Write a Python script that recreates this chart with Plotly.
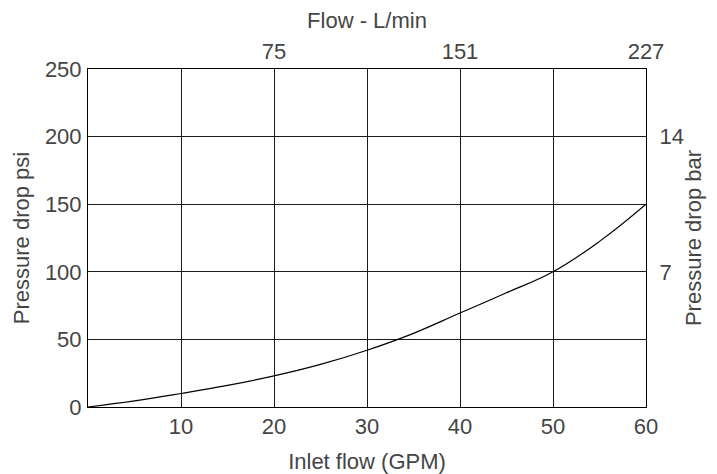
import plotly.graph_objects as go

# Data
flow_gpm = [0, 5, 10, 15, 20, 25, 30, 35, 40, 45, 50, 55, 60]
pressure_psi = [0, 4.5, 10, 16, 23, 31.5, 42, 54.5, 69.5, 84.5, 100, 122.5, 150]

bottom_ticks = [10, 20, 30, 40, 50, 60]
top_tick_vals = [20, 40, 60]
top_tick_text = ["75", "151", "227"]
left_ticks = [0, 50, 100, 150, 200, 250]
right_tick_vals = [100, 200]
right_tick_text = ["7", "14"]

font_family = "Liberation Sans, Arial, Helvetica, sans-serif"
txt_color = "#454545"
grid_color = "#1a1a1a"
fsize = 22
tfont = dict(size=fsize)

fig = go.Figure()
fig.add_trace(go.Scatter(x=flow_gpm, y=pressure_psi, mode="lines",
                         line=dict(color="black", width=1.2, shape="spline",
                                   smoothing=1.2),
                         showlegend=False, hoverinfo="skip"))
# invisible trace for secondary axes
fig.add_trace(go.Scatter(x=[0], y=[0], xaxis="x2", yaxis="y2", mode="markers",
                         marker=dict(opacity=0), showlegend=False, hoverinfo="skip"))

fig.update_layout(
    width=709, height=466,
    margin=dict(l=80, r=71, t=61, b=67),
    paper_bgcolor="white", plot_bgcolor="white",
    font=dict(family=font_family, size=fsize, color=txt_color),
    xaxis=dict(range=[0, 60], tickvals=bottom_ticks, showgrid=True,
               gridcolor=grid_color, gridwidth=1, zeroline=False,
               showline=True, linecolor="black", linewidth=1, mirror=True,
               ticks="outside", ticklen=0, tickcolor="rgba(0,0,0,0)",
               automargin=False, tickfont=tfont,
               title=dict(text="Inlet flow (GPM)", standoff=16, font=tfont)),
    yaxis=dict(range=[0, 250], tickvals=left_ticks, showgrid=True,
               gridcolor=grid_color, gridwidth=1, zeroline=False,
               showline=True, linecolor="black", linewidth=1, mirror=True,
               ticks="outside", ticklen=1, tickcolor="rgba(0,0,0,0)",
               automargin=False, tickfont=tfont,
               title=dict(text="Pressure drop psi", standoff=9, font=tfont)),
    xaxis2=dict(range=[0, 60], overlaying="x", side="top",
                tickvals=top_tick_vals, ticktext=top_tick_text,
                showgrid=False, zeroline=False, showline=False,
                ticks="outside", ticklen=0, tickcolor="rgba(0,0,0,0)",
                automargin=False, tickfont=tfont,
                title=dict(text="Flow - L/min", standoff=12, font=tfont)),
    yaxis2=dict(range=[0, 250], overlaying="y", side="right",
                tickvals=right_tick_vals, ticktext=right_tick_text,
                showgrid=False, zeroline=False, showline=False,
                ticks="outside", ticklen=8, tickcolor="rgba(0,0,0,0)",
                automargin=False, tickfont=tfont,
                title=dict(text="Pressure drop bar", standoff=2, font=tfont)),
)

fig.write_html("out.html")
